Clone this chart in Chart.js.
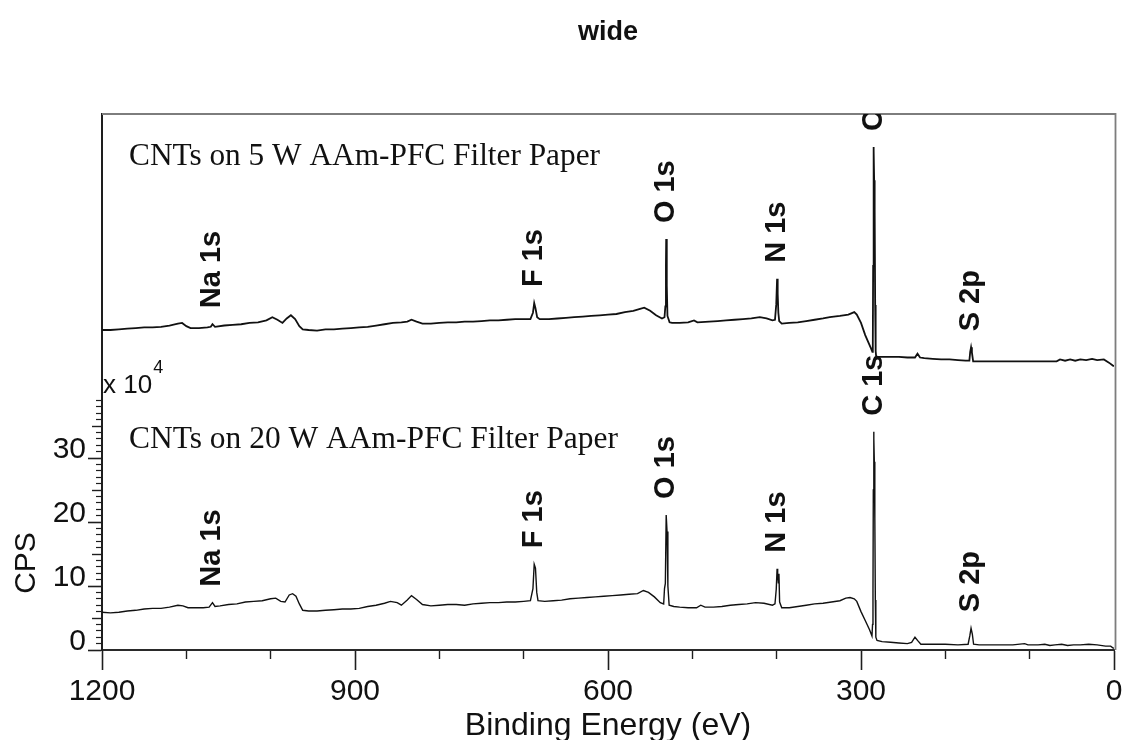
<!DOCTYPE html>
<html>
<head>
<meta charset="utf-8">
<script src="https://cdn.jsdelivr.net/npm/chart.js@4.4.1/dist/chart.umd.min.js"></script>
<style>
  html, body { margin: 0; padding: 0; background: #fff; }
  canvas { display: block; }
</style>
</head>
<body>
<canvas id="xps" width="1122" height="740"></canvas>
<script>
// ---- XPS wide-scan data: [binding energy (eV), CPS (x10^4)] ----
// Lower trace: CNTs on the 20 W treated filter paper
const spectrum20W = [
  [1200,5.9],[1190,5.8],[1180,5.9],[1170,6.1],[1160,6.2],[1150,6.4],[1140,6.5],[1130,6.5],
  [1120,6.7],[1110,7.0],[1104,6.9],[1098,6.6],[1090,6.6],[1080,6.6],[1073,6.7],[1069,7.4],
  [1066,6.8],[1060,6.9],[1050,7.1],[1040,7.2],[1030,7.5],[1020,7.6],[1010,7.7],[1000,8.0],
  [994,8.1],[988,7.6],[983,7.5],[978,8.6],[974,8.8],[970,8.4],[966,7.2],[962,6.2],
  [955,6.1],[945,6.1],[935,6.2],[925,6.3],[915,6.4],[905,6.4],[895,6.5],[885,6.8],
  [875,7.0],[865,7.3],[858,7.6],[850,7.4],[845,7.0],[838,7.8],[833,8.5],[827,7.9],
  [820,7.1],[810,6.9],[800,7.0],[790,7.1],[780,7.1],[770,7.0],[760,7.2],[750,7.3],
  [740,7.4],[730,7.4],[720,7.5],[710,7.5],[700,7.6],[692,7.7],[689,9.6],[687.5,13.4],
  [686,12.8],[684.5,9.0],[683,7.7],[675,7.6],[665,7.7],[655,7.8],[645,8.0],[635,8.1],
  [625,8.2],[615,8.3],[605,8.4],[595,8.5],[585,8.6],[575,8.7],[565,8.8],[558,9.3],
  [552,9.0],[545,8.3],[538,7.4],[534,7.2],[533,9.6],[532,10.4],[531,21.1],[530,18.5],
  [529,10.0],[527.5,7.0],[522,6.8],[515,6.7],[505,6.6],[495,6.6],[490,7.0],[485,6.7],
  [475,6.7],[465,6.8],[455,7.0],[445,7.1],[435,7.2],[425,7.4],[415,7.3],[405,7.0],
  [402,7.2],[400.5,9.5],[399.5,12.7],[398.8,11.8],[398,10.5],[397.3,11.9],[396.5,7.5],[394,6.6],
  [385,6.6],[375,6.8],[365,7.0],[355,7.2],[345,7.3],[335,7.5],[325,7.7],[318,8.1],
  [313,8.2],[308,8.0],[305,7.6],[300,6.0],[295,4.6],[290,3.2],[287,2.2],[286.3,4.0],
  [285.8,8.8],[285.4,25.0],[285,34.1],[284.6,33.0],[284.2,29.4],[283.6,20.6],[283,7.8],[282.4,2.0],
  [281,1.5],
  [275,1.3],[265,1.2],[255,1.1],[245,1.0],[240,1.2],[236,2.0],[233,1.5],[229,0.9],
  [220,0.9],[200,0.9],[185,0.8],[173,0.9],[171,2.2],[169.5,3.4],[168,2.5],[166.5,0.9],
  [160,0.8],[150,0.8],[140,0.8],[120,0.8],[106,1.0],[102,0.8],[90,0.8],[82,0.9],
  [76,0.7],[70,0.8],[62,0.9],[55,0.7],[48,0.8],[40,0.8],[30,0.9],[20,0.8],
  [10,0.6],[4,0.6],[1,0.3],[0,0.3]
];

// Upper trace: CNTs on the 5 W treated filter paper (stacked above the 20 W scan)
const spectrum5W = [
  [1200,50.0],[1190,50.0],[1180,50.1],[1170,50.2],[1160,50.3],[1150,50.4],[1140,50.4],[1130,50.5],
  [1120,50.7],[1110,51.0],[1105,51.1],[1100,50.6],[1095,50.3],[1085,50.3],[1075,50.4],[1071,50.5],
  [1069,50.9],[1066,50.5],[1055,50.7],[1045,50.8],[1035,50.9],[1025,51.1],[1015,51.2],[1005,51.5],
  [998,52.0],[992,51.6],[986,51.1],[981,51.8],[976,52.3],[971,51.7],[966,50.6],[962,50.1],
  [955,50.0],[945,49.9],[935,50.1],[925,50.1],[915,50.2],[905,50.3],[895,50.4],[885,50.5],
  [875,50.7],[865,50.9],[855,51.1],[845,51.2],[838,51.3],[833,51.6],[827,51.3],[820,51.0],
  [810,51.0],[800,51.1],[790,51.2],[780,51.2],[770,51.3],[760,51.3],[750,51.4],[740,51.5],
  [730,51.5],[720,51.6],[710,51.7],[700,51.7],[692,51.7],[689,52.7],[687.5,54.2],[686,53.4],
  [684,52.0],[681,51.7],[670,51.7],[660,51.8],[650,51.9],[640,52.0],[630,52.1],[620,52.2],
  [610,52.3],[600,52.4],[590,52.5],[580,52.8],[570,53.0],[562,53.3],[557,53.5],[550,53.0],
  [543,52.3],[536,51.8],[533,52.0],[532,53.7],[531.3,60.0],[531,64.2],[530.3,57.0],[529.5,52.2],
  [527,51.2],[524,51.1],[515,51.1],[505,51.2],[498,51.5],[494,51.2],[480,51.3],[470,51.4],
  [460,51.5],[450,51.6],[440,51.7],[430,51.8],[420,52.0],[412,51.8],[405,51.5],[402,51.6],
  [400.5,54.0],[399.5,58.0],[398.8,55.7],[398,52.7],[397,51.4],[394,51.0],[385,51.1],[375,51.2],
  [365,51.4],[355,51.6],[345,51.8],[337,52.0],[325,52.2],[315,52.4],[308,52.8],[305,52.4],
  [300,51.1],[295,49.2],[291,48.0],[288,47.1],[286.5,46.6],[286,47.7],[285.6,60.0],[285.2,78.6],
  [284.8,78.0],[284.4,73.4],[283.8,68.8],[283.2,53.9],[282.6,46.7],[282,45.8],[275,45.8],[265,45.8],[255,45.8],
  [245,45.7],[236,45.7],[233,46.3],[230,45.7],[225,45.6],[215,45.5],[205,45.4],[195,45.4],
  [185,45.3],[176,45.2],[171.5,45.2],[170.5,46.6],[169.5,47.3],[168.5,46.5],[167,45.1],[155,45.1],
  [140,45.1],[120,45.1],[100,45.1],[80,45.1],[68,45.1],[64,45.4],[58,45.2],[52,45.4],
  [46,45.2],[40,45.4],[33,45.3],[26,45.5],[20,45.3],[12,45.4],[6,44.9],[1,44.4],[0,44.4]
];

// Core-level peak assignments (label text and binding energy)
const peakNames    = ['Na 1s', 'F 1s', 'O 1s', 'N 1s', 'C 1s', 'S 2p'];
const peakEnergies = [1069, 687.5, 531, 399.5, 284.8, 169.5];

// Sample captions, upper panel first
const sampleNames = ['CNTs on 5 W AAm-PFC Filter Paper', 'CNTs on 20 W AAm-PFC Filter Paper'];

// Axis ticks
const xTickLabels = [1200, 900, 600, 300, 0];
const xMinorTicks = [1100, 1000, 800, 700, 500, 400, 200, 100];
const yTickLabels = [0, 10, 20, 30];
const yMidTicks   = [5, 15, 25, 35];
const yMinorTicks = [1,2,3,4,6,7,8,9,11,12,13,14,16,17,18,19,21,22,23,24,26,27,28,29,31,32,33,34,36,37,38,39];

// ---- appearance ----
const SANS  = '"Liberation Sans", Arial, Helvetica, sans-serif';
const SERIF = '"Liberation Serif", "Times New Roman", serif';
const INK   = '#111';
const Y_MAX = 83.75;

const toPoints = s => s.map(([e, v]) => ({ x: e, y: v }));
const setTicks = list => axis => { axis.ticks = list.map(v => ({ value: v })); };

function peakTop(series, energy) {
  let best = -Infinity;
  for (const [e, v] of series) {
    if (Math.abs(e - energy) <= 3 && v > best) best = v;
  }
  return best;
}

const annotationPlugin = {
  id: 'xpsAnnotations',
  afterDraw(chart) {
    const { ctx, chartArea: a, scales: { x, y } } = chart;
    ctx.save();

    // top and right frame lines
    ctx.strokeStyle = '#7d7d7d';
    ctx.lineWidth = 1.8;
    ctx.beginPath();
    ctx.moveTo(a.left, a.top);
    ctx.lineTo(a.right + 1.5, a.top);
    ctx.lineTo(a.right + 1.5, a.bottom);
    ctx.stroke();

    ctx.fillStyle = INK;

    // x tick labels
    ctx.font = '30px ' + SANS;
    ctx.textAlign = 'center';
    ctx.textBaseline = 'alphabetic';
    xTickLabels.forEach(v => ctx.fillText(String(v), x.getPixelForValue(v), 700));

    // y tick labels sit just above their tick marks
    ctx.textAlign = 'right';
    yTickLabels.forEach(v => ctx.fillText(String(v), 86, y.getPixelForValue(v)));

    // axis titles
    ctx.font = '32px ' + SANS;
    ctx.textAlign = 'center';
    ctx.fillText('Binding Energy (eV)', (a.left + a.right) / 2, 735);

    ctx.save();
    ctx.translate(27, 563);
    ctx.rotate(-Math.PI / 2);
    ctx.font = '30px ' + SANS;
    ctx.textBaseline = 'middle';
    ctx.fillText('CPS', 0, 0);
    ctx.restore();

    // exponent marker
    ctx.textAlign = 'left';
    ctx.font = '26px ' + SANS;
    ctx.fillText('x 10', 103, 393);
    const w = ctx.measureText('x 10').width;
    ctx.font = '18px ' + SANS;
    ctx.fillText('4', 103 + w + 1, 373);

    // sample captions
    const captionY = [165, 448];
    const captionW = [471, 489];
    ctx.font = '31px ' + SERIF;
    sampleNames.forEach((t, i) => {
      const m = ctx.measureText(t).width;
      ctx.save();
      ctx.translate(129, captionY[i]);
      ctx.scale(captionW[i] / m, 1);
      ctx.fillText(t, 0, 0);
      ctx.restore();
    });

    // peak labels, rotated, drawn just above each peak
    ctx.save();
    ctx.beginPath();
    ctx.rect(a.left, a.top, a.right - a.left, a.bottom - a.top);
    ctx.clip();
    ctx.font = 'bold 29px ' + SANS;
    [spectrum5W, spectrum20W].forEach(series => {
      peakNames.forEach((name, i) => {
        const e = peakEnergies[i];
        const px = x.getPixelForValue(e);
        const py = y.getPixelForValue(peakTop(series, e)) - 16;
        ctx.save();
        ctx.translate(px, py);
        ctx.rotate(-Math.PI / 2);
        ctx.textAlign = 'left';
        ctx.textBaseline = 'middle';
        ctx.fillText(name, 0, 0);
        ctx.restore();
      });
    });
    ctx.restore();

    ctx.restore();
  }
};

const tickGrid = (len, width) => ({
  display: true, drawOnChartArea: false, drawTicks: true,
  tickLength: len, tickWidth: width, tickColor: '#1e1e1e'
});

new Chart(document.getElementById('xps'), {
  type: 'line',
  data: {
    datasets: [
      {
        label: sampleNames[1],
        data: toPoints(spectrum20W),
        borderColor: INK, borderWidth: 1.4,
        pointRadius: 0, fill: false, tension: 0
      },
      {
        label: sampleNames[0],
        data: toPoints(spectrum5W),
        borderColor: INK, borderWidth: 1.8,
        pointRadius: 0, fill: false, tension: 0
      }
    ]
  },
  options: {
    responsive: false,
    animation: false,
    devicePixelRatio: 1,
    events: [],
    layout: { padding: { left: 88, right: 8, top: 0, bottom: 70 } },
    plugins: {
      legend: { display: false },
      tooltip: { enabled: false },
      title: {
        display: true, text: 'wide', fullSize: false, color: INK,
        font: { family: SANS, size: 27, weight: 'bold', lineHeight: 1.2 },
        padding: { top: 16, bottom: 65.6 }
      }
    },
    scales: {
      x: {
        type: 'linear', position: 'bottom', min: 0, max: 1200, reverse: true,
        ticks: { display: false },
        afterBuildTicks: setTicks(xTickLabels),
        grid: tickGrid(20, 1.6),
        border: { display: true, color: '#2a2a2a', width: 2 }
      },
      xMinor: {
        axis: 'x', type: 'linear', position: { y: 0 }, min: 0, max: 1200, reverse: true,
        ticks: { display: false },
        afterBuildTicks: setTicks(xMinorTicks),
        grid: tickGrid(9, 1.4),
        border: { display: false }
      },
      y: {
        type: 'linear', position: 'left', min: 0, max: Y_MAX,
        ticks: { display: false },
        afterBuildTicks: setTicks(yTickLabels),
        grid: tickGrid(14, 1.6),
        border: { display: true, color: '#1e1e1e', width: 2 }
      },
      yMid: {
        axis: 'y', type: 'linear', position: { x: 1200 }, min: 0, max: Y_MAX,
        ticks: { display: false },
        afterBuildTicks: setTicks(yMidTicks),
        grid: tickGrid(10, 1.4),
        border: { display: false }
      },
      yMinor: {
        axis: 'y', type: 'linear', position: { x: 1200 }, min: 0, max: Y_MAX,
        ticks: { display: false },
        afterBuildTicks: setTicks(yMinorTicks),
        grid: tickGrid(6, 1.2),
        border: { display: false }
      }
    }
  },
  plugins: [annotationPlugin]
});
</script>
</body>
</html>
